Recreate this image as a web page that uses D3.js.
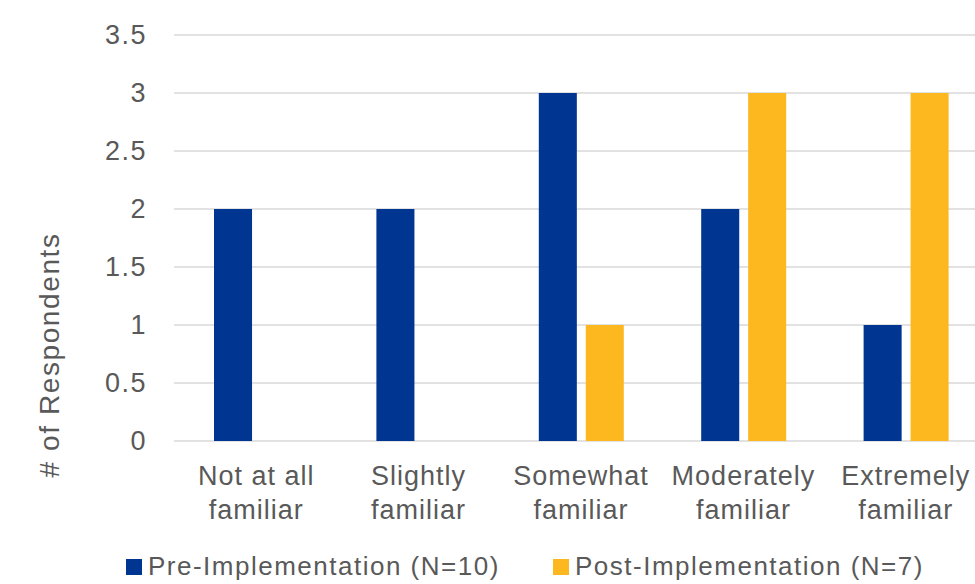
<!DOCTYPE html>
<html>
<head>
<meta charset="utf-8">
<script src="https://cdn.jsdelivr.net/npm/d3@7"></script>
<style>
  html, body { margin: 0; padding: 0; background: #fff; }
  svg { display: block; font-family: "Liberation Sans", Arial, sans-serif; }
</style>
</head>
<body>
<svg id="chart" width="975" height="584"></svg>
<script>
// Familiarity levels reported before and after implementation
const categories = [
  ["Not at all", "familiar"],
  ["Slightly", "familiar"],
  ["Somewhat", "familiar"],
  ["Moderately", "familiar"],
  ["Extremely", "familiar"]
];
const seriesNames = ["Pre-Implementation (N=10)", "Post-Implementation (N=7)"];
const preValues = [2, 2, 3, 2, 1];
const postValues = [0, 0, 1, 3, 3];
const yTicks = [0, 0.5, 1, 1.5, 2, 2.5, 3, 3.5];
const colors = ["#003591", "#FDB71F"];

const svg = d3.select("#chart");
const margin = { top: 35, right: -12, bottom: 143, left: 175 };
const width = 975 - margin.left - margin.right;
const height = 584 - margin.top - margin.bottom;
const textColor = "#595959";

const g = svg.append("g").attr("transform", `translate(${margin.left},${margin.top})`);

const x0 = d3.scaleBand().domain(d3.range(categories.length)).range([0, width]);
const x1 = d3.scaleBand().domain([0, 1]).range([39, 39 + 85]).paddingInner(0.19);
const y = d3.scaleLinear().domain([0, 3.5]).range([height, 0]);

// Horizontal gridlines
g.append("g")
  .selectAll("line")
  .data(yTicks)
  .join("line")
  .attr("x1", -1).attr("x2", width)
  .attr("y1", d => y(d)).attr("y2", d => y(d))
  .attr("stroke", "#d9d9d9").attr("stroke-width", 1.5);

// Y axis labels
const yAxis = d3.axisLeft(y).tickValues(yTicks).tickSize(0).tickPadding(28)
  .tickFormat(d => String(d));
g.append("g").call(yAxis)
  .call(s => s.select(".domain").remove())
  .selectAll("text")
  .attr("fill", textColor)
  .style("font-size", "27px")
  .style("letter-spacing", "1.5px")
  .style("font-family", "'Liberation Sans', Arial, sans-serif");

// Bars
const data = categories.map((c, i) => ({ i, values: [preValues[i], postValues[i]] }));
const groups = g.append("g").selectAll("g")
  .data(data)
  .join("g")
  .attr("transform", d => `translate(${x0(d.i)},0)`);
groups.selectAll("rect")
  .data(d => d.values.map((v, k) => ({ k, v })).filter(e => e.v > 0))
  .join("rect")
  .attr("x", e => x1(e.k))
  .attr("width", x1.bandwidth())
  .attr("y", e => y(e.v))
  .attr("height", e => y(0) - y(e.v))
  .attr("fill", e => colors[e.k]);

// Category labels (two lines each)
const catLabels = g.append("g").selectAll("text")
  .data(categories)
  .join("text")
  .attr("x", (c, i) => x0(i) + x0.bandwidth() / 2)
  .attr("y", height + 44)
  .attr("text-anchor", "middle")
  .attr("fill", textColor)
  .style("font-size", "27px")
  .style("letter-spacing", "1px");
catLabels.selectAll("tspan")
  .data(c => c)
  .join("tspan")
  .attr("x", function () { return d3.select(this.parentNode).attr("x"); })
  .attr("dy", (t, j) => j === 0 ? 0 : 34)
  .text(t => t);

// Y axis title
svg.append("text")
  .attr("transform", "translate(59,355) rotate(-90)")
  .attr("text-anchor", "middle")
  .attr("fill", textColor)
  .style("font-size", "28px")
  .style("letter-spacing", "1.6px")
  .text("# of Respondents");

// Legend
const legendX = [126, 553];
const legend = svg.append("g").selectAll("g")
  .data(seriesNames)
  .join("g")
  .attr("transform", (d, i) => `translate(${legendX[i]},559)`);
legend.append("rect")
  .attr("width", 16).attr("height", 16)
  .attr("fill", (d, i) => colors[i]);
legend.append("text")
  .attr("x", 22).attr("y", 16)
  .attr("fill", textColor)
  .style("font-size", "26px")
  .style("letter-spacing", "1.5px")
  .text(d => d);
</script>
</body>
</html>
